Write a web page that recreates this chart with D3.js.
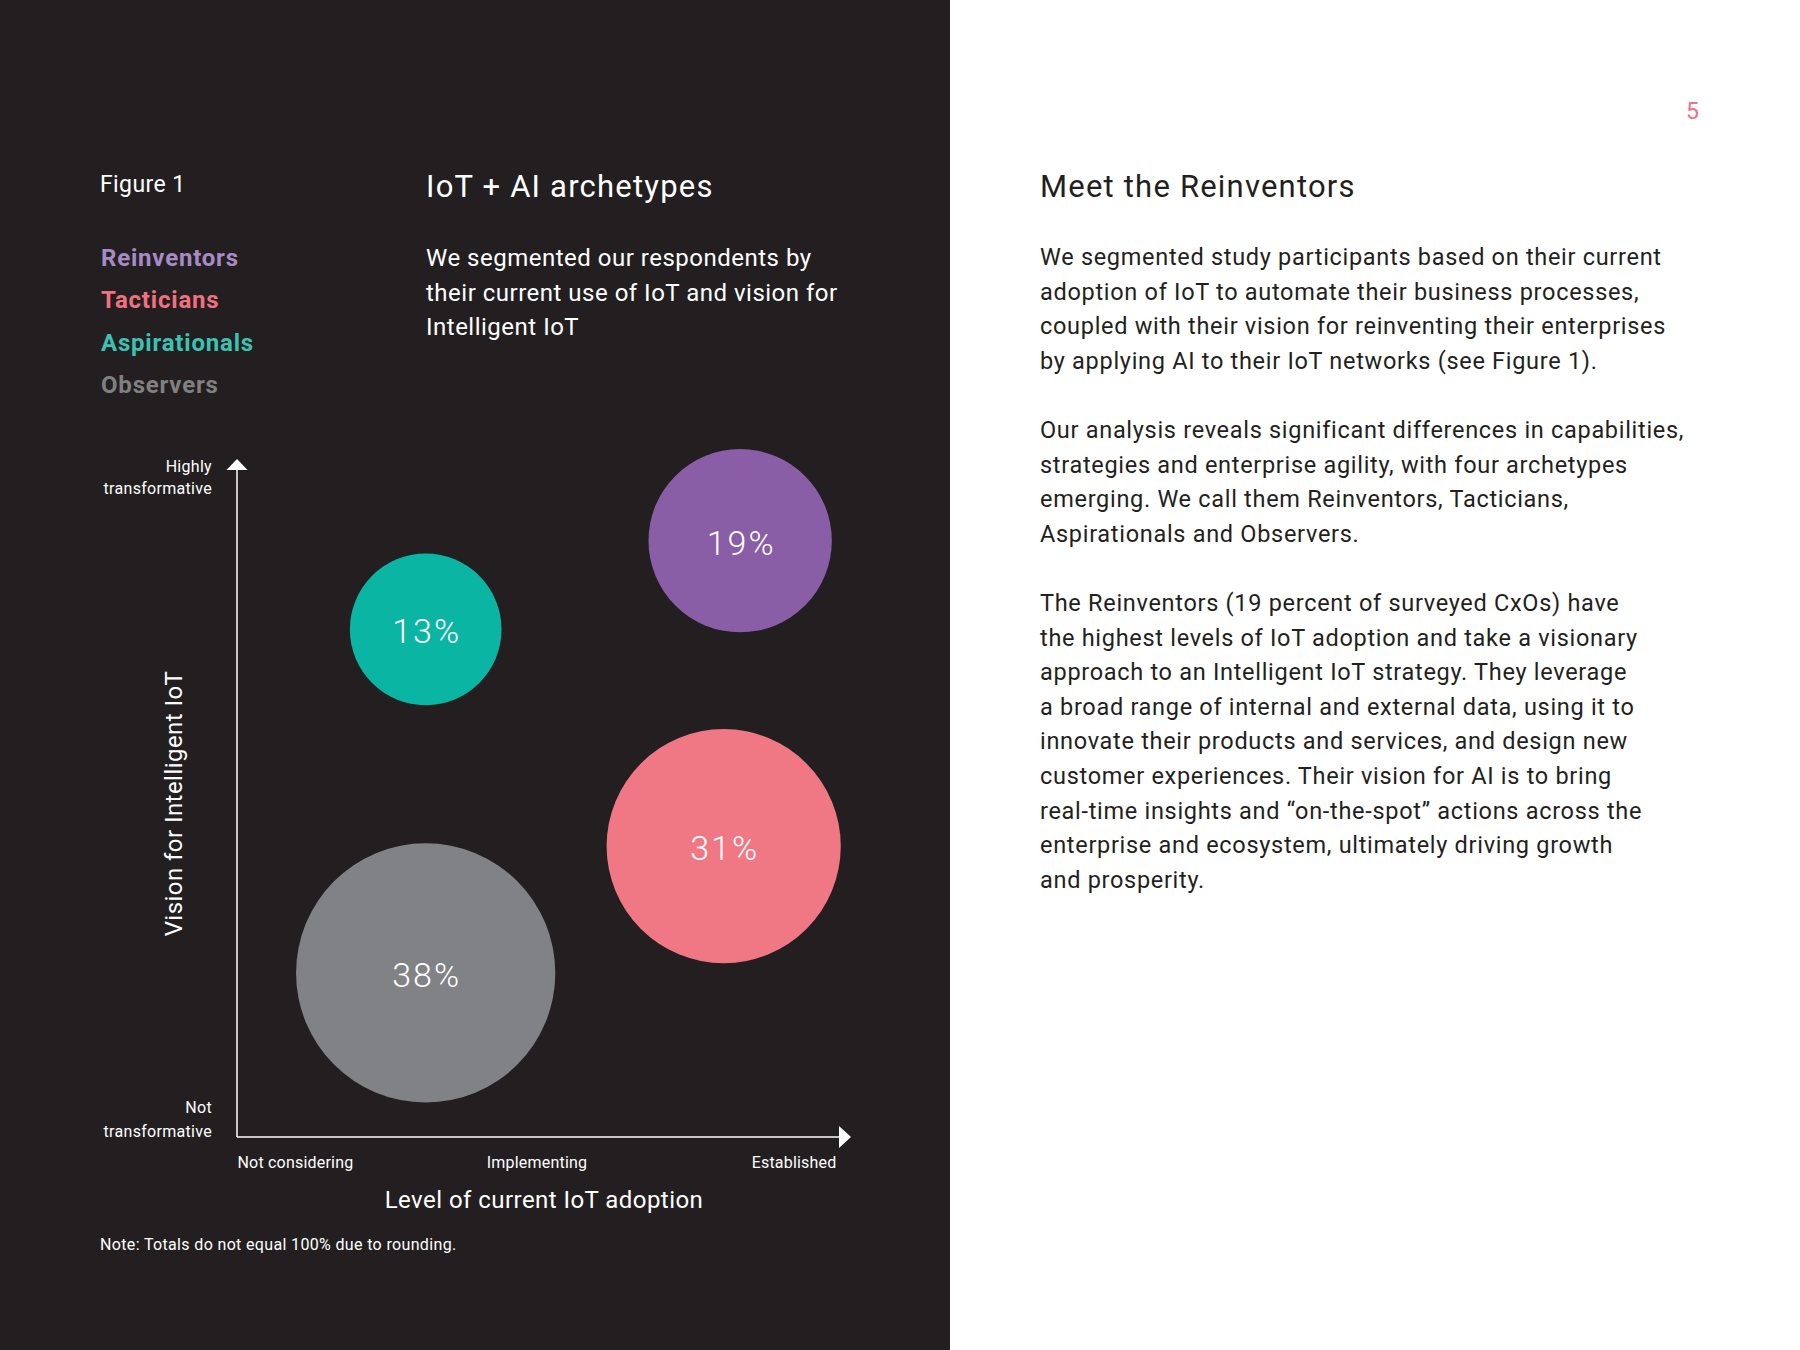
<!DOCTYPE html>
<html>
<head>
<meta charset="utf-8">
<script src="https://cdn.jsdelivr.net/npm/d3@7"></script>
<style>
  body {
    margin: 0;
    background: #ffffff;
    font-family: Roboto, "Noto Sans", sans-serif;
  }
  svg { display: block; }
</style>
</head>
<body>
<svg id="page"></svg>
<script>
  // chart data
  let archetypes = ["Reinventors", "Tacticians", "Aspirationals", "Observers"]
  let shares = [19, 31, 13, 38]                 // percent of respondents
  let adoption = [1.68, 1.625, 0.63, 0.63]      // 0 = not considering, 1 = implementing, 2 = established
  let vision = [0.894, 0.436, 0.761, 0.246]     // 0 = not transformative, 1 = highly transformative
  let circleColors = ["#8a5da7", "#f07885", "#0bb5a3", "#808285"]
  let legendColors = ["#a68bc6", "#f0717f", "#3cc2b3", "#808081"]
  let adoptionTicks = ["Not considering", "Implementing", "Established"]
  let visionTicks = [["Not", "transformative"], ["Highly", "transformative"]]

  // page texts
  let introLines = ["We segmented our respondents by", "their current use of IoT and vision for", "Intelligent IoT"]
  let bodyParagraphs = [
    ["We segmented study participants based on their current",
     "adoption of IoT to automate their business processes,",
     "coupled with their vision for reinventing their enterprises",
     "by applying AI to their IoT networks (see Figure 1)."],
    ["Our analysis reveals significant differences in capabilities,",
     "strategies and enterprise agility, with four archetypes",
     "emerging. We call them Reinventors, Tacticians,",
     "Aspirationals and Observers."],
    ["The Reinventors (19 percent of surveyed CxOs) have",
     "the highest levels of IoT adoption and take a visionary",
     "approach to an Intelligent IoT strategy. They leverage",
     "a broad range of internal and external data, using it to",
     "innovate their products and services, and design new",
     "customer experiences. Their vision for AI is to bring",
     "real-time insights and \u201Con-the-spot\u201D actions across the",
     "enterprise and ecosystem, ultimately driving growth",
     "and prosperity."]
  ]

  let width = 1800, height = 1350
  let dark = "#231f20"

  let svg = d3.select("#page")
    .attr("width", width)
    .attr("height", height)

  svg.append("rect")
    .attr("width", width).attr("height", height)
    .attr("fill", "#ffffff")
  svg.append("rect")
    .attr("width", 950).attr("height", height)
    .attr("fill", dark)

  function addLines(parent, lines, x, y, lineHeight, style) {
    let t = parent.append("text")
      .attr("x", x).attr("y", y)
    Object.keys(style).forEach(k => t.style(k, style[k]))
    lines.forEach((line, i) => {
      t.append("tspan")
        .attr("x", x)
        .attr("dy", i == 0 ? 0 : lineHeight)
        .text(line)
    })
    return t
  }

  // left panel header
  addLines(svg, ["Figure 1"], 100, 192, 0,
    {"font-size": "23px", "fill": "#ffffff", "letter-spacing": "0.4px"})
  addLines(svg, ["IoT + AI archetypes"], 426, 197, 0,
    {"font-size": "31px", "fill": "#ffffff", "letter-spacing": "1.2px"})
  addLines(svg, introLines, 426, 266, 34.5,
    {"font-size": "24px", "fill": "#ffffff", "letter-spacing": "0.5px"})

  // legend
  svg.append("g").selectAll("text")
    .data(archetypes)
    .enter().append("text")
    .attr("x", 101)
    .attr("y", (d, i) => 266 + i * 42.3)
    .attr("fill", (d, i) => legendColors[i])
    .style("font-size", "24px")
    .style("font-weight", "bold")
    .style("letter-spacing", "0.8px")
    .text(d => d)

  // bubble chart
  let xScale = d3.scaleLinear().domain([0, 2]).range([237, 836])
  let yScale = d3.scaleLinear().domain([0, 1]).range([1137, 470])
  let rScale = d3.scaleSqrt().domain([0, 40]).range([0, 133])

  let x0 = xScale.range()[0], y0 = yScale.range()[0]

  let bubbles = archetypes.map((name, i) => ({
    name: name, share: shares[i], adoption: adoption[i], vision: vision[i], color: circleColors[i]
  }))

  let plot = svg.append("g")
  plot.selectAll("circle")
    .data(bubbles)
    .enter().append("circle")
    .attr("cx", d => xScale(d.adoption))
    .attr("cy", d => yScale(d.vision))
    .attr("r", d => rScale(d.share))
    .attr("fill", d => d.color)

  plot.selectAll(".pct")
    .data(bubbles)
    .enter().append("text")
    .attr("class", "pct")
    .attr("x", d => xScale(d.adoption) + 1)
    .attr("y", d => yScale(d.vision) + 14)
    .attr("text-anchor", "middle")
    .attr("fill", "#ffffff")
    .style("font-size", "34px")
    .style("font-weight", "300")
    .style("letter-spacing", "2px")
    .text(d => d.share + "%")

  // axes lines with arrow heads
  svg.append("line")
    .attr("x1", x0).attr("y1", y0)
    .attr("x2", xScale.range()[1] + 4).attr("y2", y0)
    .attr("stroke", "#ffffff").attr("stroke-width", 1.5)
  svg.append("line")
    .attr("x1", x0).attr("y1", y0)
    .attr("x2", x0).attr("y2", yScale.range()[1])
    .attr("stroke", "#ffffff").attr("stroke-width", 1.5)

  let xEnd = xScale.range()[1] + 15
  svg.append("path")
    .attr("d", `M${xEnd},${y0} L${xEnd - 12},${y0 - 11} L${xEnd - 12},${y0 + 11} Z`)
    .attr("fill", "#ffffff")
  let yEnd = yScale.range()[1] - 11
  svg.append("path")
    .attr("d", `M${x0},${yEnd} L${x0 - 10.5},${yEnd + 11} L${x0 + 10.5},${yEnd + 11} Z`)
    .attr("fill", "#ffffff")

  // x tick labels
  let axisX = d3.axisBottom(xScale)
    .tickValues([0, 1, 2])
    .tickFormat((d, i) => adoptionTicks[i])
    .tickSize(0)
    .tickPadding(20)
  let gx = svg.append("g")
    .attr("transform", `translate(0,${y0})`)
    .call(axisX)
  gx.select(".domain").remove()
  gx.selectAll("text")
    .attr("fill", "#ffffff")
    .style("font-family", "Roboto, 'Noto Sans', sans-serif")
    .style("font-size", "16px")
    .style("letter-spacing", "0.2px")
    .attr("text-anchor", (d, i) => ["start", "middle", "end"][i])

  // y end labels
  addLines(svg, visionTicks[0], x0 - 25, y0 - 24, 24,
    {"font-size": "16px", "fill": "#ffffff", "text-anchor": "end", "letter-spacing": "0.3px"})
  addLines(svg, visionTicks[1], x0 - 25, yScale.range()[1] + 2, 22,
    {"font-size": "16px", "fill": "#ffffff", "text-anchor": "end", "letter-spacing": "0.3px"})

  // axis titles
  svg.append("text")
    .attr("transform", `translate(182,${(y0 + yScale.range()[1]) / 2}) rotate(-90)`)
    .attr("text-anchor", "middle")
    .attr("fill", "#ffffff")
    .style("font-size", "24px")
    .style("letter-spacing", "0.45px")
    .text("Vision for Intelligent IoT")
  svg.append("text")
    .attr("x", 544).attr("y", 1208)
    .attr("text-anchor", "middle")
    .attr("fill", "#ffffff")
    .style("font-size", "24px")
    .style("letter-spacing", "0.45px")
    .text("Level of current IoT adoption")

  addLines(svg, ["Note: Totals do not equal 100% due to rounding."], 100, 1250, 0,
    {"font-size": "16px", "fill": "#ffffff", "letter-spacing": "0.35px"})

  // right page
  addLines(svg, ["5"], 1686, 119, 0, {"font-size": "23px", "fill": "#f0717f"})
  addLines(svg, ["Meet the Reinventors"], 1040, 197, 0,
    {"font-size": "31px", "fill": dark, "letter-spacing": "1.2px"})

  let paraStarts = [265, 438, 611]
  bodyParagraphs.forEach((lines, i) => {
    addLines(svg, lines, 1040, paraStarts[i], 34.6,
      {"font-size": "23.5px", "fill": dark, "letter-spacing": "0.7px"})
  })
</script>
</body>
</html>
